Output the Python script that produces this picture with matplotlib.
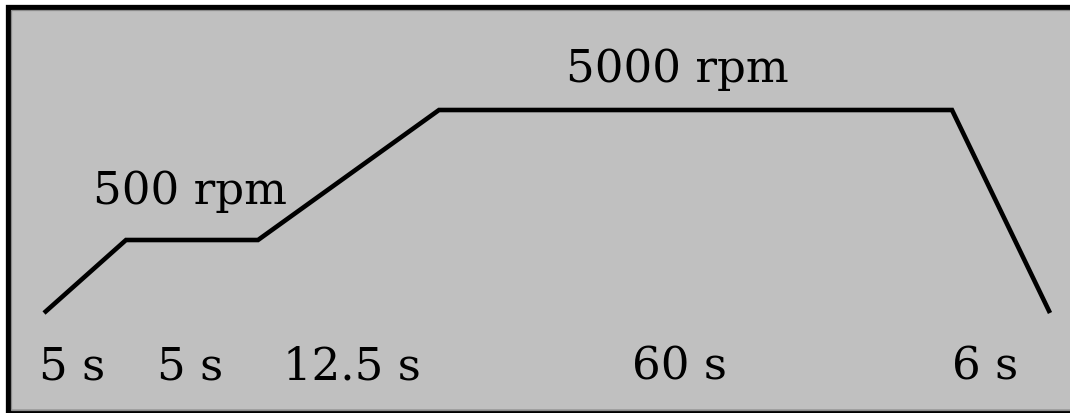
import matplotlib
matplotlib.use("Agg")
import matplotlib.pyplot as plt
from matplotlib.patches import Rectangle

# Schematic spin-coating profile (positions, pixel-like units)
profile_x = [44, 126, 258, 439, 952, 1050]
profile_y = [314, 241, 241, 111, 111, 314]

speed_labels = ["500 rpm", "5000 rpm"]
speed_label_x = [190, 677]
speed_label_y = [191, 69]

duration_labels = ["5 s", "5 s", "12.5 s", "60 s", "6 s"]
duration_label_x = [72, 190, 352, 680, 985]
duration_label_y = 367

W, H = 1070, 414
fig = plt.figure(figsize=(W / 100, H / 100), dpi=100)
fig.patch.set_facecolor("white")
ax = fig.add_axes([0, 0, 1, 1])
ax.set_xlim(0, W)
ax.set_ylim(H, 0)
ax.axis("off")

# Box: grey face, thick black frame (extends past right edge as in the crop)
ax.add_patch(Rectangle((7.5, 7.5), W + 20, 405.5, facecolor="#c0c0c0",
                       edgecolor="black", linewidth=3.8, zorder=1))
ax.add_patch(Rectangle((10.5, 10.5), W + 20, 400.5, facecolor="none",
                       edgecolor="#8a8a8a", linewidth=0.9, zorder=2))

ax.plot(profile_x, profile_y, color="black", linewidth=3.3,
        solid_joinstyle="miter", solid_capstyle="butt", zorder=3)

font = dict(family=["DejaVu Serif"], fontsize=32.5, color="black")
for t, x, y in zip(speed_labels, speed_label_x, speed_label_y):
    ax.text(x, y, t, ha="center", va="center", zorder=4, **font)
for t, x in zip(duration_labels, duration_label_x):
    ax.text(x, duration_label_y, t, ha="center", va="center", zorder=4, **font)

fig.savefig("out.png", dpi=100, facecolor="white")
